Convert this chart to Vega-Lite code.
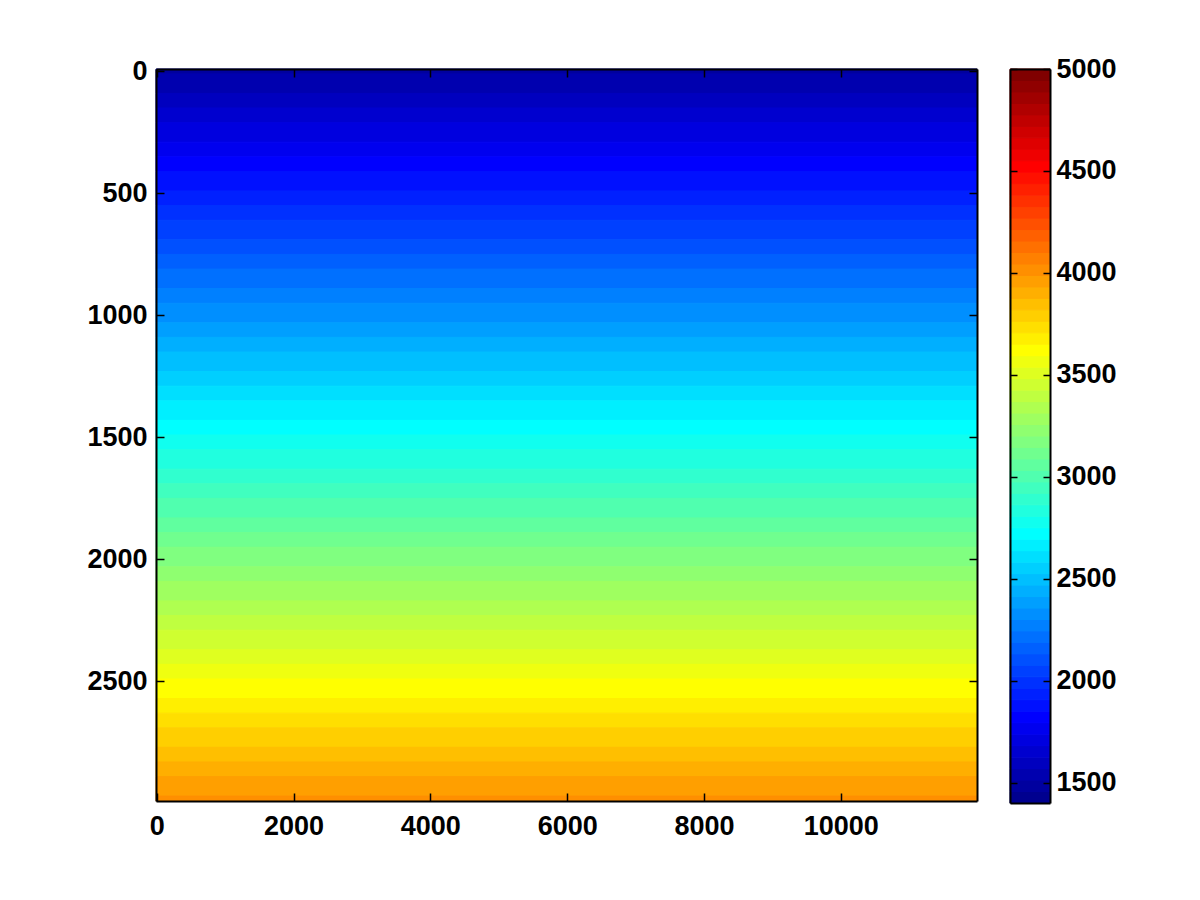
{
  "$schema": "https://vega.github.io/schema/vega-lite/v6.json",
  "background": "white",
  "padding": {"left": 86, "top": 55, "right": 5, "bottom": 5},
  "spacing": 33,
  "bounds": "flush",
  "config": {
    "view": {"stroke": null},
    "axis": {
      "grid": false,
      "title": null,
      "format": "d",
      "zindex": 2,
      "domain": true,
      "domainColor": "black",
      "domainWidth": 2,
      "labelFont": "Liberation Sans",
      "labelFontWeight": "bold",
      "labelFontSize": 27,
      "labelColor": "black",
      "labelFlush": false,
      "labelOverlap": false,
      "tickColor": "black",
      "tickWidth": 1.5,
      "tickSize": -8
    }
  },
  "datasets": {
    "model": [
      {"z0": -10, "z1": 10, "v": 1484.375},
      {"z0": 10, "z1": 90, "v": 1540.625},
      {"z0": 90, "z1": 150, "v": 1596.875},
      {"z0": 150, "z1": 210, "v": 1653.125},
      {"z0": 210, "z1": 290, "v": 1709.375},
      {"z0": 290, "z1": 350, "v": 1765.625},
      {"z0": 350, "z1": 410, "v": 1821.875},
      {"z0": 410, "z1": 490, "v": 1878.125},
      {"z0": 490, "z1": 550, "v": 1934.375},
      {"z0": 550, "z1": 610, "v": 1990.625},
      {"z0": 610, "z1": 690, "v": 2046.875},
      {"z0": 690, "z1": 750, "v": 2103.125},
      {"z0": 750, "z1": 810, "v": 2159.375},
      {"z0": 810, "z1": 890, "v": 2215.625},
      {"z0": 890, "z1": 950, "v": 2271.875},
      {"z0": 950, "z1": 1030, "v": 2328.125},
      {"z0": 1030, "z1": 1090, "v": 2384.375},
      {"z0": 1090, "z1": 1150, "v": 2440.625},
      {"z0": 1150, "z1": 1230, "v": 2496.875},
      {"z0": 1230, "z1": 1290, "v": 2553.125},
      {"z0": 1290, "z1": 1350, "v": 2609.375},
      {"z0": 1350, "z1": 1430, "v": 2665.625},
      {"z0": 1430, "z1": 1490, "v": 2721.875},
      {"z0": 1490, "z1": 1550, "v": 2778.125},
      {"z0": 1550, "z1": 1630, "v": 2834.375},
      {"z0": 1630, "z1": 1690, "v": 2890.625},
      {"z0": 1690, "z1": 1750, "v": 2946.875},
      {"z0": 1750, "z1": 1830, "v": 3003.125},
      {"z0": 1830, "z1": 1890, "v": 3059.375},
      {"z0": 1890, "z1": 1950, "v": 3115.625},
      {"z0": 1950, "z1": 2030, "v": 3171.875},
      {"z0": 2030, "z1": 2090, "v": 3228.125},
      {"z0": 2090, "z1": 2170, "v": 3284.375},
      {"z0": 2170, "z1": 2230, "v": 3340.625},
      {"z0": 2230, "z1": 2290, "v": 3396.875},
      {"z0": 2290, "z1": 2370, "v": 3453.125},
      {"z0": 2370, "z1": 2430, "v": 3509.375},
      {"z0": 2430, "z1": 2490, "v": 3565.625},
      {"z0": 2490, "z1": 2570, "v": 3621.875},
      {"z0": 2570, "z1": 2630, "v": 3678.125},
      {"z0": 2630, "z1": 2690, "v": 3734.375},
      {"z0": 2690, "z1": 2770, "v": 3790.625},
      {"z0": 2770, "z1": 2830, "v": 3846.875},
      {"z0": 2830, "z1": 2890, "v": 3903.125},
      {"z0": 2890, "z1": 2970, "v": 3959.375},
      {"z0": 2970, "z1": 2990, "v": 4015.625}
    ],
    "colorbar": [
      {"lo": 1400, "hi": 1456.25, "v": 1428.125},
      {"lo": 1456.25, "hi": 1512.5, "v": 1484.375},
      {"lo": 1512.5, "hi": 1568.75, "v": 1540.625},
      {"lo": 1568.75, "hi": 1625, "v": 1596.875},
      {"lo": 1625, "hi": 1681.25, "v": 1653.125},
      {"lo": 1681.25, "hi": 1737.5, "v": 1709.375},
      {"lo": 1737.5, "hi": 1793.75, "v": 1765.625},
      {"lo": 1793.75, "hi": 1850, "v": 1821.875},
      {"lo": 1850, "hi": 1906.25, "v": 1878.125},
      {"lo": 1906.25, "hi": 1962.5, "v": 1934.375},
      {"lo": 1962.5, "hi": 2018.75, "v": 1990.625},
      {"lo": 2018.75, "hi": 2075, "v": 2046.875},
      {"lo": 2075, "hi": 2131.25, "v": 2103.125},
      {"lo": 2131.25, "hi": 2187.5, "v": 2159.375},
      {"lo": 2187.5, "hi": 2243.75, "v": 2215.625},
      {"lo": 2243.75, "hi": 2300, "v": 2271.875},
      {"lo": 2300, "hi": 2356.25, "v": 2328.125},
      {"lo": 2356.25, "hi": 2412.5, "v": 2384.375},
      {"lo": 2412.5, "hi": 2468.75, "v": 2440.625},
      {"lo": 2468.75, "hi": 2525, "v": 2496.875},
      {"lo": 2525, "hi": 2581.25, "v": 2553.125},
      {"lo": 2581.25, "hi": 2637.5, "v": 2609.375},
      {"lo": 2637.5, "hi": 2693.75, "v": 2665.625},
      {"lo": 2693.75, "hi": 2750, "v": 2721.875},
      {"lo": 2750, "hi": 2806.25, "v": 2778.125},
      {"lo": 2806.25, "hi": 2862.5, "v": 2834.375},
      {"lo": 2862.5, "hi": 2918.75, "v": 2890.625},
      {"lo": 2918.75, "hi": 2975, "v": 2946.875},
      {"lo": 2975, "hi": 3031.25, "v": 3003.125},
      {"lo": 3031.25, "hi": 3087.5, "v": 3059.375},
      {"lo": 3087.5, "hi": 3143.75, "v": 3115.625},
      {"lo": 3143.75, "hi": 3200, "v": 3171.875},
      {"lo": 3200, "hi": 3256.25, "v": 3228.125},
      {"lo": 3256.25, "hi": 3312.5, "v": 3284.375},
      {"lo": 3312.5, "hi": 3368.75, "v": 3340.625},
      {"lo": 3368.75, "hi": 3425, "v": 3396.875},
      {"lo": 3425, "hi": 3481.25, "v": 3453.125},
      {"lo": 3481.25, "hi": 3537.5, "v": 3509.375},
      {"lo": 3537.5, "hi": 3593.75, "v": 3565.625},
      {"lo": 3593.75, "hi": 3650, "v": 3621.875},
      {"lo": 3650, "hi": 3706.25, "v": 3678.125},
      {"lo": 3706.25, "hi": 3762.5, "v": 3734.375},
      {"lo": 3762.5, "hi": 3818.75, "v": 3790.625},
      {"lo": 3818.75, "hi": 3875, "v": 3846.875},
      {"lo": 3875, "hi": 3931.25, "v": 3903.125},
      {"lo": 3931.25, "hi": 3987.5, "v": 3959.375},
      {"lo": 3987.5, "hi": 4043.75, "v": 4015.625},
      {"lo": 4043.75, "hi": 4100, "v": 4071.875},
      {"lo": 4100, "hi": 4156.25, "v": 4128.125},
      {"lo": 4156.25, "hi": 4212.5, "v": 4184.375},
      {"lo": 4212.5, "hi": 4268.75, "v": 4240.625},
      {"lo": 4268.75, "hi": 4325, "v": 4296.875},
      {"lo": 4325, "hi": 4381.25, "v": 4353.125},
      {"lo": 4381.25, "hi": 4437.5, "v": 4409.375},
      {"lo": 4437.5, "hi": 4493.75, "v": 4465.625},
      {"lo": 4493.75, "hi": 4550, "v": 4521.875},
      {"lo": 4550, "hi": 4606.25, "v": 4578.125},
      {"lo": 4606.25, "hi": 4662.5, "v": 4634.375},
      {"lo": 4662.5, "hi": 4718.75, "v": 4690.625},
      {"lo": 4718.75, "hi": 4775, "v": 4746.875},
      {"lo": 4775, "hi": 4831.25, "v": 4803.125},
      {"lo": 4831.25, "hi": 4887.5, "v": 4859.375},
      {"lo": 4887.5, "hi": 4943.75, "v": 4915.625},
      {"lo": 4943.75, "hi": 5000, "v": 4971.875}
    ]
  },
  "hconcat": [
    {
      "width": 821,
      "height": 732,
      "data": {"name": "model"},
      "layer": [
        {
          "mark": {"type": "rect", "strokeWidth": 1},
          "encoding": {
            "x": {"datum": -10, "type": "quantitative",
                  "scale": {"domain": [-10, 11990], "nice": false, "zero": false},
                  "axis": {"orient": "bottom", "values": [0, 2000, 4000, 6000, 8000, 10000], "labelPadding": 20, "zindex": 2}},
            "x2": {"datum": 11990},
            "y": {"field": "z0", "type": "quantitative",
                  "scale": {"domain": [-10, 2990], "reverse": true, "nice": false, "zero": false},
                  "axis": {"orient": "left", "values": [0, 500, 1000, 1500, 2000, 2500], "labelPadding": 17, "zindex": 2}},
            "y2": {"field": "z1"},
            "fill": {"field": "v", "type": "quantitative",
                      "scale": {"type": "linear", "domain": [1428.125, 1821.875, 2721.875, 3621.875, 4521.875, 4971.875],
                                "range": ["#00008f", "#0000ff", "#00ffff", "#ffff00", "#ff0000", "#800000"],
                                "interpolate": "rgb", "clamp": true},
                      "legend": null},
            "stroke": {"field": "v", "type": "quantitative",
                      "scale": {"type": "linear", "domain": [1428.125, 1821.875, 2721.875, 3621.875, 4521.875, 4971.875],
                                "range": ["#00008f", "#0000ff", "#00ffff", "#ffff00", "#ff0000", "#800000"],
                                "interpolate": "rgb", "clamp": true},
                      "legend": null}
          }
        },
        {
          "mark": {"type": "rect", "opacity": 0},
          "encoding": {
            "x": {"datum": -10, "type": "quantitative",
                  "axis": {"orient": "top", "values": [0, 2000, 4000, 6000, 8000, 10000], "labels": false, "zindex": 2}},
            "x2": {"datum": 11990},
            "y": {"field": "z0", "type": "quantitative",
                  "axis": {"orient": "right", "values": [0, 500, 1000, 1500, 2000, 2500], "labels": false, "zindex": 2}},
            "y2": {"field": "z1"}
          }
        }
      ],
      "resolve": {"axis": {"x": "independent", "y": "independent"}}
    },
    {
      "width": 40,
      "height": 734,
      "data": {"name": "colorbar"},
      "layer": [
        {
          "mark": {"type": "rect", "strokeWidth": 1},
          "encoding": {
            "x": {"datum": 0, "type": "quantitative", "scale": {"domain": [0, 1], "nice": false},
                  "axis": {"orient": "bottom", "labels": false, "ticks": false, "values": [], "zindex": 2}},
            "x2": {"datum": 1},
            "y": {"field": "lo", "type": "quantitative",
                  "scale": {"domain": [1400, 5000], "nice": false, "zero": false},
                  "axis": {"orient": "right", "values": [1500, 2000, 2500, 3000, 3500, 4000, 4500, 5000], "tickSize": -7, "labelPadding": 13, "zindex": 2}},
            "y2": {"field": "hi"},
            "fill": {"field": "v", "type": "quantitative",
                      "scale": {"type": "linear", "domain": [1428.125, 1821.875, 2721.875, 3621.875, 4521.875, 4971.875],
                                "range": ["#00008f", "#0000ff", "#00ffff", "#ffff00", "#ff0000", "#800000"],
                                "interpolate": "rgb", "clamp": true},
                      "legend": null},
            "stroke": {"field": "v", "type": "quantitative",
                      "scale": {"type": "linear", "domain": [1428.125, 1821.875, 2721.875, 3621.875, 4521.875, 4971.875],
                                "range": ["#00008f", "#0000ff", "#00ffff", "#ffff00", "#ff0000", "#800000"],
                                "interpolate": "rgb", "clamp": true},
                      "legend": null}
          }
        },
        {
          "mark": {"type": "rect", "opacity": 0},
          "encoding": {
            "x": {"datum": 0, "type": "quantitative",
                  "axis": {"orient": "top", "labels": false, "ticks": false, "values": [], "zindex": 2}},
            "x2": {"datum": 1},
            "y": {"field": "lo", "type": "quantitative",
                  "axis": {"orient": "left", "values": [1500, 2000, 2500, 3000, 3500, 4000, 4500, 5000], "labels": false, "tickSize": -7, "zindex": 2}},
            "y2": {"field": "hi"}
          }
        }
      ],
      "resolve": {"axis": {"x": "independent", "y": "independent"}}
    }
  ]
}
